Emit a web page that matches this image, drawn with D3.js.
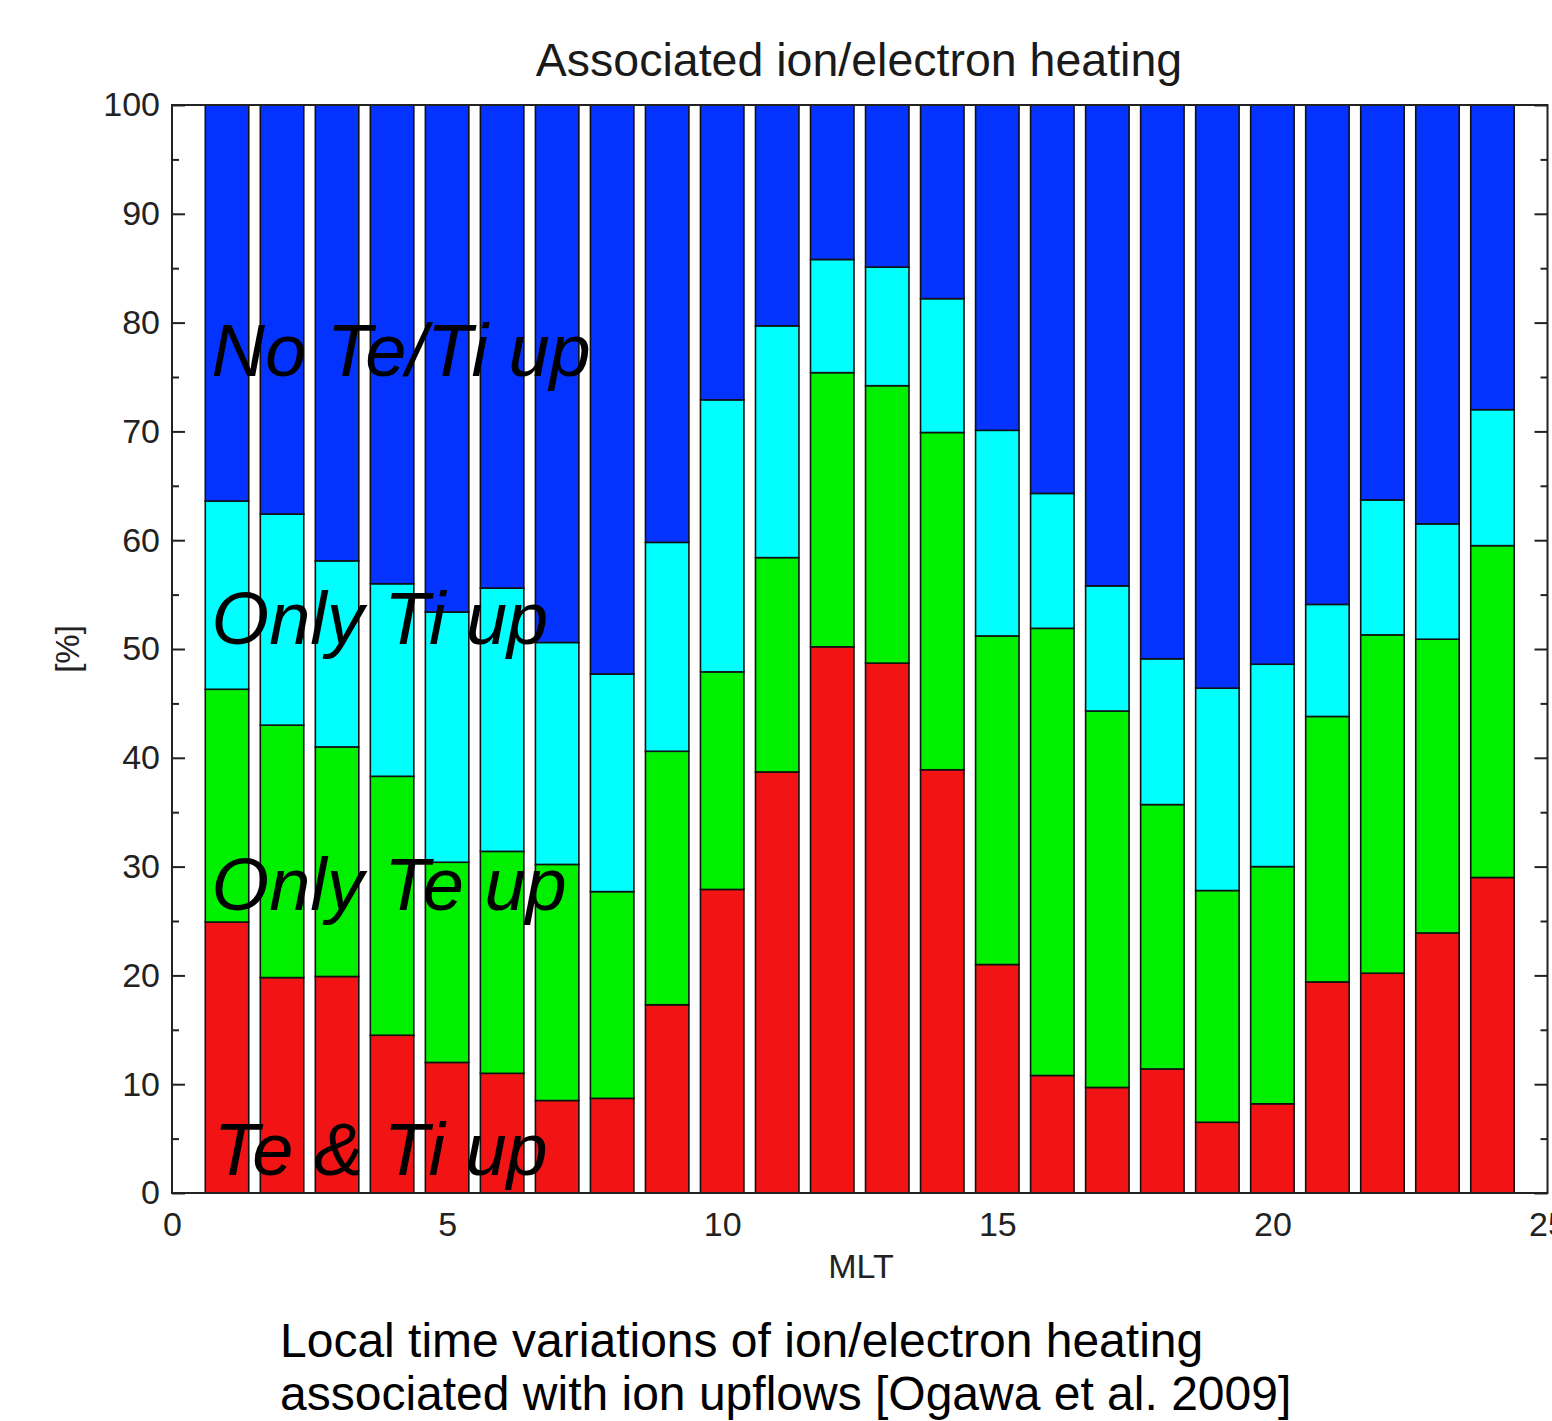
<!DOCTYPE html>
<html>
<head>
<meta charset="utf-8">
<script src="https://cdn.jsdelivr.net/npm/d3@7"></script>
<style>
  html, body { margin: 0; padding: 0; background: #fff; }
  svg { display: block; }
  text { font-family: "Liberation Sans", Arial, Helvetica, sans-serif; }
</style>
</head>
<body>
<svg id="chart" width="1552" height="1421"></svg>
<script>
// MLT hour bins
const mltHours = [1,2,3,4,5,6,7,8,9,10,11,12,13,14,15,16,17,18,19,20,21,22,23,24];
// Percentages of each category per MLT bin (bottom to top)
const teTiUp   = [24.9,19.8,19.9,14.5,12.0,11.0,8.5,8.7,17.3,27.9,38.7,50.2,48.7,38.9,21.0,10.8,9.7,11.4,6.5,8.2,19.4,20.2,23.9,29.0];
const onlyTeUp = [21.4,23.2,21.1,23.8,18.4,20.4,21.7,19.0,23.3,20.0,19.7,25.2,25.5,31.0,30.2,41.1,34.6,24.3,21.3,21.8,24.4,31.1,27.0,30.5];
const onlyTiUp = [17.3,19.4,17.1,17.7,23.0,24.2,20.4,20.0,19.2,25.0,21.3,10.4,10.9,12.3,18.9,12.4,11.5,13.4,18.6,18.6,10.3,12.4,10.6,12.5];
const noTeTiUp = [36.4,37.6,41.9,44.0,46.6,44.4,49.4,52.3,40.2,27.1,20.3,14.2,14.9,17.8,29.9,35.7,44.2,50.9,53.6,51.4,45.9,36.3,38.5,28.0];

const seriesKeys = ["teTi", "onlyTe", "onlyTi", "none"];
const seriesColors = ["#f21414", "#00f000", "#00ffff", "#0433ff"];
const seriesLabels = ["Te & Ti up", "Only Te up", "Only Ti up", "No Te/Ti up"];
// label anchor positions in data units [MLT, %] (baseline start)
const labelAnchors = [[0.76, 1.65], [0.72, 26.0], [0.72, 50.5], [0.72, 75.1]];

const xTicks = [0, 5, 10, 15, 20, 25];
const yMajorTicks = [0, 10, 20, 30, 40, 50, 60, 70, 80, 90, 100];
const yMinorTicks = [5, 15, 25, 35, 45, 55, 65, 75, 85, 95];

const titleText = "Associated ion/electron heating";
const xLabel = "MLT";
const yLabel = "[%]";
const captionLines = ["Local time variations of ion/electron heating",
                      "associated with ion upflows [Ogawa et al. 2009]"];

(function () {
  const table = mltHours.map((h, i) => ({
    mlt: h, teTi: teTiUp[i], onlyTe: onlyTeUp[i], onlyTi: onlyTiUp[i], none: noTeTiUp[i]
  }));

  const svg = d3.select("#chart");
  const pLeft = 172, pRight = 1547.5, pTop = 105, pBottom = 1193;

  const x = d3.scaleLinear().domain([0, 25]).range([pLeft, pRight]);
  const y = d3.scaleLinear().domain([0, 100]).range([pBottom, pTop]);
  const barW = 0.79;

  const stacked = d3.stack().keys(seriesKeys)(table);

  const gBars = svg.append("g");
  stacked.forEach((layer, li) => {
    gBars.selectAll(null)
      .data(layer)
      .enter().append("rect")
      .attr("x", d => x(d.data.mlt - barW / 2))
      .attr("width", x(barW) - x(0))
      .attr("y", d => y(d[1]))
      .attr("height", d => y(d[0]) - y(d[1]))
      .attr("fill", seriesColors[li])
      .attr("stroke", "#111")
      .attr("stroke-width", 1.6);
  });

  svg.append("rect")
    .attr("x", pLeft).attr("y", pTop)
    .attr("width", pRight - pLeft).attr("height", pBottom - pTop)
    .attr("fill", "none").attr("stroke", "#222").attr("stroke-width", 2);

  const yAxisL = svg.append("g").attr("transform", `translate(${pLeft},0)`)
    .call(d3.axisLeft(y).tickValues(yMajorTicks).tickSize(-13).tickPadding(12).tickSizeOuter(0));
  const yAxisLm = svg.append("g").attr("transform", `translate(${pLeft},0)`)
    .call(d3.axisLeft(y).tickValues(yMinorTicks).tickSize(-7).tickFormat("").tickSizeOuter(0));
  const yAxisR = svg.append("g").attr("transform", `translate(${pRight},0)`)
    .call(d3.axisRight(y).tickValues(yMajorTicks).tickSize(-13).tickFormat("").tickSizeOuter(0));
  const yAxisRm = svg.append("g").attr("transform", `translate(${pRight},0)`)
    .call(d3.axisRight(y).tickValues(yMinorTicks).tickSize(-7).tickFormat("").tickSizeOuter(0));
  const xAxis = svg.append("g").attr("transform", `translate(0,${pBottom})`)
    .call(d3.axisBottom(x).tickValues(xTicks).tickSize(0).tickPadding(19).tickSizeOuter(0));

  [yAxisL, yAxisLm, yAxisR, yAxisRm, xAxis].forEach(g => {
    g.select(".domain").remove();
    g.selectAll(".tick line").attr("stroke", "#222").attr("stroke-width", 2);
    g.selectAll(".tick text").attr("fill", "#222").style("font-size", "34px")
      .style("font-family", "'Liberation Sans', Arial, sans-serif");
  });

  seriesLabels.forEach((lab, i) => {
    svg.append("text")
      .attr("x", x(labelAnchors[i][0]))
      .attr("y", y(labelAnchors[i][1]))
      .attr("font-size", 74)
      .attr("font-style", "italic")
      .attr("fill", "#000")
      .text(lab);
  });

  svg.append("text")
    .attr("x", 859).attr("y", 76)
    .attr("text-anchor", "middle")
    .attr("font-size", 46.5)
    .attr("fill", "#1a1a1a")
    .text(titleText);

  svg.append("text")
    .attr("x", 861).attr("y", 1278)
    .attr("text-anchor", "middle")
    .attr("font-size", 34)
    .attr("fill", "#222")
    .text(xLabel);

  svg.append("text")
    .attr("transform", "translate(79,649) rotate(-90)")
    .attr("text-anchor", "middle")
    .attr("font-size", 33)
    .attr("fill", "#222")
    .text(yLabel);

  captionLines.forEach((line, i) => {
    svg.append("text")
      .attr("x", 280).attr("y", 1357 + i * 53)
      .attr("font-size", 48)
      .attr("fill", "#000")
      .text(line);
  });
})();
</script>
</body>
</html>
